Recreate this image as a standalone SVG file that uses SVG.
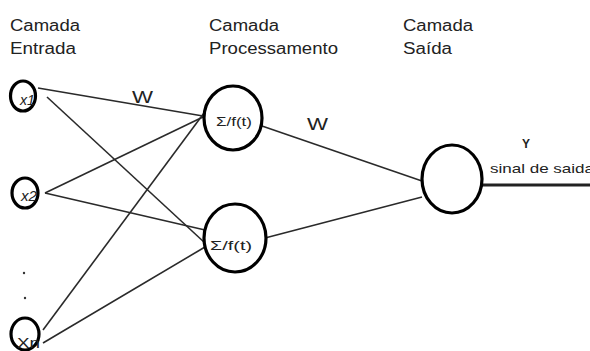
<svg xmlns="http://www.w3.org/2000/svg" width="590" height="351" viewBox="0 0 590 351">
<style>
.hdr{font-family:"Liberation Sans",Arial,sans-serif;font-size:16px;fill:#222}
.lbl{font-family:"Liberation Sans",Arial,sans-serif;fill:#222}
.node{fill:#fff;stroke:#000;stroke-width:3.2}
.edge{stroke:#2a2a2a;stroke-width:1.6;fill:none}
</style>
<rect width="590" height="351" fill="#fff"/>
<g id="headers">
<text class="hdr" x="10" y="31" textLength="70" lengthAdjust="spacingAndGlyphs">Camada</text>
<text class="hdr" x="10" y="54" textLength="66" lengthAdjust="spacingAndGlyphs">Entrada</text>
<text class="hdr" x="209" y="31" textLength="70" lengthAdjust="spacingAndGlyphs">Camada</text>
<text class="hdr" x="209" y="54" textLength="129" lengthAdjust="spacingAndGlyphs">Processamento</text>
<text class="hdr" x="403" y="31" textLength="70" lengthAdjust="spacingAndGlyphs">Camada</text>
<text class="hdr" x="403" y="54" textLength="49" lengthAdjust="spacingAndGlyphs">Saída</text>
</g>
<g id="connectors">
<line class="edge" x1="38" y1="88" x2="203" y2="116"/>
<line class="edge" x1="47" y1="97" x2="205" y2="243"/>
<line class="edge" x1="45" y1="193" x2="203" y2="117"/>
<line class="edge" x1="45" y1="193" x2="205" y2="230"/>
<line class="edge" x1="43" y1="330" x2="204" y2="113"/>
<line class="edge" x1="43" y1="343" x2="205" y2="247"/>
<line class="edge" x1="262" y1="126" x2="422" y2="181"/>
<line class="edge" x1="265" y1="238" x2="422" y2="197"/>
<line x1="482" y1="185" x2="590" y2="185" stroke="#222" stroke-width="3"/>
<text class="lbl" x="132" y="103" font-size="16" textLength="21" lengthAdjust="spacingAndGlyphs">W</text>
<text class="lbl" x="307" y="130" font-size="16" textLength="21" lengthAdjust="spacingAndGlyphs">W</text>
<text class="lbl" x="522" y="148" font-size="12" font-weight="bold">Y</text>
<text class="lbl" x="490" y="173" font-size="13" textLength="104" lengthAdjust="spacingAndGlyphs">sinal de saida</text>
</g>
<g id="x1">
<ellipse class="node" cx="23" cy="96" rx="12.5" ry="15"/>
<text class="lbl" x="20" y="105" font-size="14" font-style="italic" textLength="15" lengthAdjust="spacingAndGlyphs">x1</text>
</g>
<g id="x2">
<ellipse class="node" cx="25" cy="193" rx="13" ry="15"/>
<text class="lbl" x="21" y="201" font-size="14" font-style="italic" textLength="16" lengthAdjust="spacingAndGlyphs">x2</text>
</g>
<g id="dots">
<circle cx="24" cy="273" r="1.2" fill="#333"/>
<circle cx="25" cy="298" r="1.2" fill="#333"/>
</g>
<g id="xn">
<ellipse class="node" cx="25" cy="334" rx="14" ry="16"/>
<text class="lbl" x="17" y="348" font-size="15" textLength="23" lengthAdjust="spacingAndGlyphs">Xn</text>
</g>
<g id="h1">
<ellipse class="node" cx="233" cy="118" rx="29" ry="32"/>
<text class="lbl" x="216" y="126" font-size="13" textLength="36" lengthAdjust="spacingAndGlyphs">Σ/f(t)</text>
</g>
<g id="h2">
<ellipse class="node" cx="235" cy="238" rx="31" ry="34"/>
<text class="lbl" x="210" y="250" font-size="13" textLength="42" lengthAdjust="spacingAndGlyphs">Σ/f(t)</text>
</g>
<g id="out">
<ellipse class="node" cx="452" cy="179" rx="30" ry="34"/>
</g>
</svg>
